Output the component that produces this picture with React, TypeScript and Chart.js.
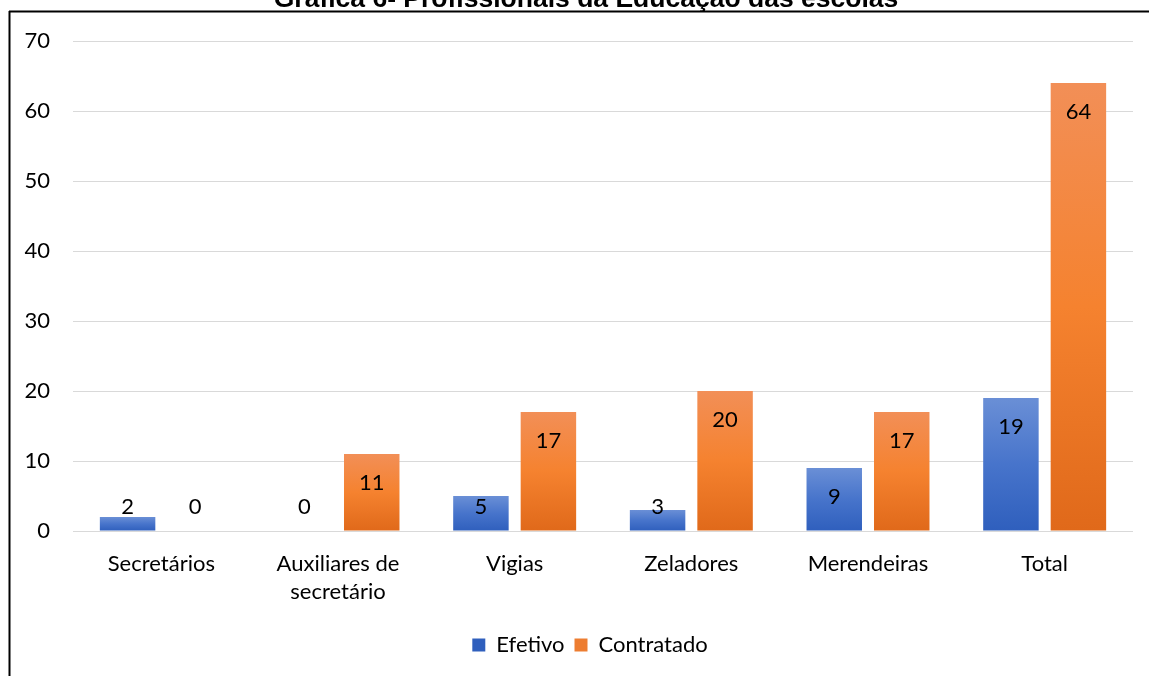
import React, { useEffect, useRef } from "react";
import { Chart, registerables } from "chart.js";

Chart.register(...registerables);

const titleText = "Gráfica 6- Profissionais da Educação das escolas";
const categories: (string | string[])[] = [
  "Secretários",
  ["Auxiliares de", "secretário"],
  "Vigias",
  "Zeladores",
  "Merendeiras",
  "Total",
];
const efetivo = [2, 0, 5, 3, 9, 19];
const contratado = [0, 11, 17, 20, 17, 64];
const yTicks = [0, 10, 20, 30, 40, 50, 60, 70];

const FONT = "Lato";

function gradientFill(solid: string, light: string, mid: string, dark: string) {
  return (ctx: any) => {
    const chart = ctx.chart;
    const ys = chart.scales && chart.scales.y;
    if (ctx.type !== "data" || !ys) return solid;
    const v = ctx.raw as number;
    const top = ys.getPixelForValue(v);
    const base = ys.getPixelForValue(0);
    if (!isFinite(top) || !isFinite(base) || Math.abs(base - top) < 1) return solid;
    const g = chart.ctx.createLinearGradient(0, top, 0, base);
    g.addColorStop(0, light);
    g.addColorStop(0.5, mid);
    g.addColorStop(1, dark);
    return g;
  };
}

const framePlugin = {
  id: "frameTitle",
  afterLayout(chart: any) {
    // the legend in the reference sits a little right of the canvas centre
    if (chart.legend) {
      chart.legend.left = 47;
      chart.legend.right = chart.width - 16;
    }
  },
  beforeDraw(chart: any) {
    const c = chart.ctx;
    c.save();
    c.strokeStyle = "#000";
    c.lineWidth = 2;
    c.beginPath();
    c.moveTo(9, 11.5);
    c.lineTo(chart.width, 11.5);
    c.moveTo(9.5, 11);
    c.lineTo(9.5, chart.height);
    c.stroke();
    c.fillStyle = "#000";
    c.font = "bold 26.5px 'Liberation Sans', Arial, sans-serif";
    c.textAlign = "center";
    c.textBaseline = "alphabetic";
    c.fillText(titleText, 586, 7);
    c.restore();
  },
};

const labelPlugin = {
  id: "valueLabels",
  afterDatasetsDraw(chart: any) {
    const c = chart.ctx;
    c.save();
    c.fillStyle = "#000";
    c.font = `22px ${FONT}`;
    c.textAlign = "center";
    c.textBaseline = "middle";
    chart.data.datasets.forEach((ds: any, di: number) => {
      const meta = chart.getDatasetMeta(di);
      meta.data.forEach((el: any, i: number) => {
        const y = Math.min(el.y + 29, el.base - 24);
        c.fillText(String(ds.data[i]), el.x, y);
      });
    });
    c.restore();
  },
};

export default function App() {
  const ref = useRef<HTMLCanvasElement | null>(null);
  useEffect(() => {
    if (!ref.current) return;
    const chart = new Chart(ref.current, {
      type: "bar",
      data: {
        labels: categories,
        datasets: [
          {
            label: "Efetivo",
            data: efetivo,
            backgroundColor: gradientFill("#4472C4", "#6A8FD6", "#4774CB", "#2F5FBD"),
            categoryPercentage: 0.764,
            barPercentage: 0.822,
          },
          {
            label: "Contratado",
            data: contratado,
            backgroundColor: gradientFill("#ED7D31", "#F28F57", "#F5822F", "#E0691A"),
            categoryPercentage: 0.764,
            barPercentage: 0.822,
          },
        ],
      },
      options: {
        animation: false,
        responsive: false,
        maintainAspectRatio: false,
        layout: { padding: { top: 41, left: 0, right: 16, bottom: 10 } },
        plugins: {
          title: { display: false },
          tooltip: { enabled: false },
          legend: {
            position: "bottom",
            labels: {
              boxWidth: 13,
              boxHeight: 13,
              color: "#000",
              font: { family: FONT, size: 22 },
              padding: 10,
            },
          },
        },
        scales: {
          x: {
            grid: { display: false, drawTicks: false },
            border: { display: false },
            ticks: {
              color: "#000",
              font: { family: FONT, size: 22, lineHeight: 1.27 },
              padding: 19,
              maxRotation: 0,
              autoSkip: false,
            },
            afterFit(scale: any) {
              scale.height = 93;
            },
          },
          y: {
            min: 0,
            max: 70,
            afterBuildTicks(scale: any) {
              scale.ticks = yTicks.map((v) => ({ value: v }));
            },
            grid: { color: "#D9D9D9", lineWidth: 1, drawTicks: false },
            border: { display: false },
            ticks: {
              color: "#000",
              font: { family: FONT, size: 22 },
              padding: 23,
            },
            afterFit(scale: any) {
              scale.width = 73;
            },
          },
        },
      },
      plugins: [framePlugin, labelPlugin],
    });
    return () => chart.destroy();
  }, []);
  return (
    <div style={{ position: "fixed", left: 0, top: 0, width: 1149, height: 676, background: "#fff" }}>
      <canvas ref={ref} width={1149} height={676} style={{ display: "block" }} />
    </div>
  );
}
